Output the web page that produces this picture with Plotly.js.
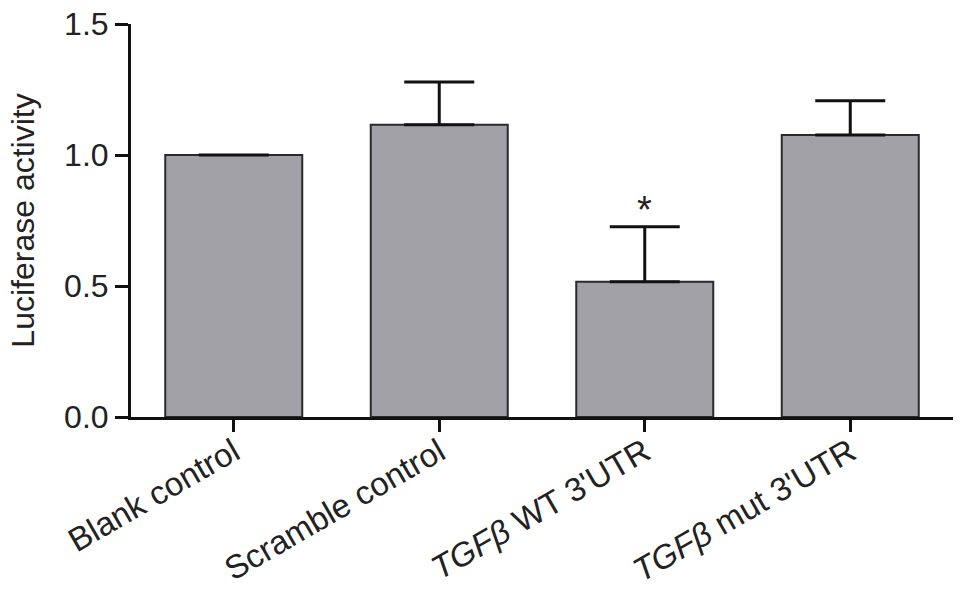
<!DOCTYPE html>
<html>
<head>
<meta charset="utf-8">
<script src="https://cdn.plot.ly/plotly-3.0.1.min.js"></script>
<style>html,body{margin:0;padding:0;background:#fff;}#chart{width:969px;height:614px;}</style>
</head>
<body>
<div id="chart"></div>
<script>
var categories = ["Blank control", "Scramble control", "TGFβ WT 3'UTR", "TGFβ mut 3'UTR"];
var tickLabels = ["Blank control", "Scramble control", "<i>TGFβ</i> WT 3'UTR", "<i>TGFβ</i> mut 3'UTR"];
var values = [1.0, 1.115, 0.516, 1.076];
var errors = [0, 0.164, 0.21, 0.131];
var significance = ["", "", "*", ""];
var yTicks = [0, 0.5, 1.0, 1.5];

var xIdx = categories.map(function(c, i){ return i; });

var trace = {
  type: 'bar',
  x: xIdx,
  y: values,
  marker: {color: '#a2a1a8', line: {color: '#2a2a2a', width: 2}},
  error_y: {
    type: 'data', symmetric: false,
    array: errors.map(function(e){ return e > 0 ? e : null; }),
    arrayminus: errors.map(function(e){ return e > 0 ? 0 : null; }),
    visible: true, color: '#111', thickness: 3, width: 35
  },
  hoverinfo: 'none'
};

var family = 'Liberation Sans, Arial, sans-serif';

var annotations = [];
significance.forEach(function(s, i){
  if (s) {
    annotations.push({
      x: i, y: values[i] + errors[i], xref: 'x', yref: 'y',
      text: s, showarrow: false, yanchor: 'bottom', yshift: -6,
      font: {family: family, size: 38, color: '#222'}
    });
  }
});

var layout = {
  width: 969, height: 614,
  margin: {l: 131, r: 16, t: 24, b: 197},
  paper_bgcolor: '#fff', plot_bgcolor: '#fff',
  showlegend: false,
  bargap: 1/3,
  font: {family: family, size: 32, color: '#222'},
  xaxis: {
    range: [-0.5, 3.5],
    tickvals: xIdx, ticktext: tickLabels,
    tickangle: -30,
    showline: true, linecolor: '#111', linewidth: 3,
    ticks: 'outside', ticklen: 12, tickwidth: 3, tickcolor: '#111',
    showgrid: false, zeroline: false,
    tickfont: {family: family, size: 33, color: '#222'},
    ticklabelstandoff: -12,
    fixedrange: true
  },
  yaxis: {
    range: [0, 1.5],
    tickvals: yTicks, ticktext: yTicks.map(function(v){ return v.toFixed(1); }),
    showline: true, linecolor: '#111', linewidth: 3,
    ticks: 'outside', ticklen: 13, tickwidth: 3, tickcolor: '#111',
    showgrid: false, zeroline: false,
    tickfont: {family: family, size: 32, color: '#222'},
    title: {text: 'Luciferase activity', font: {family: family, size: 32, color: '#222'}, standoff: 20},
    fixedrange: true
  },
  annotations: annotations
};

Plotly.newPlot('chart', [trace], layout, {displayModeBar: false, staticPlot: true});
</script>
</body>
</html>
